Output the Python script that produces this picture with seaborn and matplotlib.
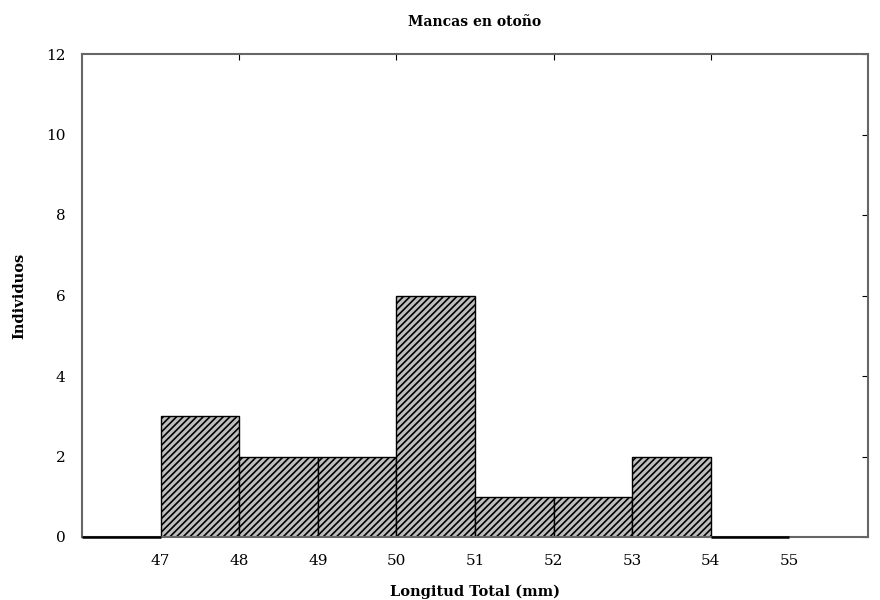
import numpy as np
import matplotlib
matplotlib.use("Agg")
import matplotlib.pyplot as plt
import seaborn as sns

# Histogram data (bin edges in mm, counts per bin)
bin_edges = [46, 47, 48, 49, 50, 51, 52, 53, 54, 55]
bin_centers = [46.5, 47.5, 48.5, 49.5, 50.5, 51.5, 52.5, 53.5, 54.5]
counts = [0, 3, 2, 2, 6, 1, 1, 2, 0]
x_ticks = [47, 48, 49, 50, 51, 52, 53, 54, 55]
top_ticks = [48, 50, 52, 54]
y_ticks = [0, 2, 4, 6, 8, 10, 12]

sns.set_style("white")
plt.rcParams['font.family'] = ['DejaVu Serif']
plt.rcParams['text.color'] = 'black'
plt.rcParams['xtick.labelcolor'] = 'black'
plt.rcParams['ytick.labelcolor'] = 'black'
plt.rcParams['axes.labelcolor'] = 'black'
plt.rcParams['hatch.linewidth'] = 1.2
plt.rcParams['hatch.color'] = '#2a2a2a'

fig = plt.figure(figsize=(8.8, 6), dpi=100)
ax = fig.add_axes([0.0932, 0.105, 0.8932, 0.805])

sns.histplot(x=bin_centers, weights=counts, bins=bin_edges, ax=ax,
             color='#bebebe', alpha=1, edgecolor='black', linewidth=1.0,
             hatch='/////')

# zero-count bins drawn as a dark line on the baseline
for left, c in zip(bin_edges[:-1], counts):
    if c == 0:
        ax.plot([left, left + 1], [0, 0], color='black', lw=1.8,
                solid_capstyle='butt', clip_on=False, zorder=5)

ax.set_xlim(46, 56)
ax.set_ylim(0, 12)
ax.set_xticks(x_ticks)
ax.set_yticks(y_ticks)
ax.tick_params(axis='x', length=0, labelsize=11, pad=12)
ax.tick_params(axis='y', direction='in', length=4, right=True, labelsize=11,
               pad=12, color='black')
sec = ax.secondary_xaxis('top')
sec.set_xticks(top_ticks)
sec.tick_params(direction='in', length=4, labeltop=False, color='black')

for sp in ax.spines.values():
    sp.set_color('#666666')
    sp.set_linewidth(1.5)
    sp.set_visible(True)
sec.spines['top'].set_visible(False)

ax.set_title("Mancas en otoño", fontsize=10, fontweight='bold', pad=20)
ax.set_xlabel("Longitud Total (mm)", fontsize=10.5, fontweight='bold', labelpad=12)
ax.set_ylabel("Individuos", fontsize=10.5, fontweight='bold', labelpad=14)

fig.savefig("out.png", dpi=100)
